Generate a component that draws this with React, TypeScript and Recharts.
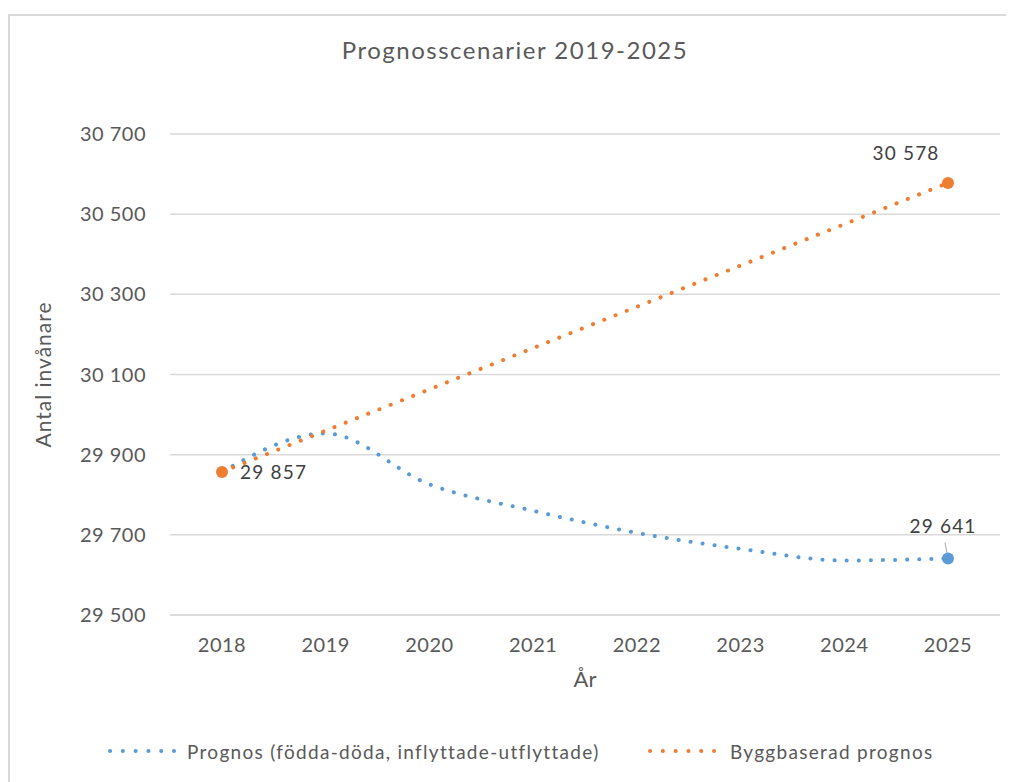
import { LineChart, Line, XAxis, YAxis, CartesianGrid, Label } from 'recharts';

const years = ['2018', '2019', '2020', '2021', '2022', '2023', '2024', '2025'];
const prognosValues = [29857, 29953, 29826, 29760, 29705, 29665, 29636, 29641];
const byggValues = [29857, 29960, 30063, 30166, 30269, 30372, 30475, 30578];
const yTicks = [29500, 29700, 29900, 30100, 30300, 30500, 30700];

const BLUE = '#5B9BD5';
const ORANGE = '#ED7D31';
const TEXT = '#595959';
const GRID = '#d9d9d9';
const FONT = 'Lato, "Open Sans", sans-serif';

const data = years.map((year, i) => ({
  year,
  prognos: prognosValues[i],
  bygg: byggValues[i],
}));

const fmt = (v: number) => String(v).replace(/\B(?=(\d{3})+(?!\d))/g, ' ');

const makeDot = (color: string, indices: number[]) => (props: any) => {
  const { cx, cy, index } = props;
  if (!indices.includes(index)) return <g key={`d${index}`} />;
  return <circle key={`d${index}`} cx={cx} cy={cy} r={6} fill={color} stroke="none" />;
};

const labelStyle = { fontFamily: FONT, fontSize: 19, fill: '#404040', letterSpacing: 1.2 };

const byggLabel = (props: any) => {
  const { x, y, value, index } = props;
  if (index === 0) {
    return (
      <text key="l0" x={x + 18} y={y} dominantBaseline="central" style={labelStyle}>{fmt(value)}</text>
    );
  }
  if (index === 7) {
    return (
      <text key="l7" x={x - 42} y={y - 30} textAnchor="middle" dominantBaseline="central" style={labelStyle}>{fmt(value)}</text>
    );
  }
  return <g key={`l${index}`} />;
};

const prognosLabel = (props: any) => {
  const { x, y, value, index } = props;
  if (index !== 7) return <g key={`p${index}`} />;
  return (
    <g key="p7">
      <line x1={x - 3} y1={y - 16} x2={x - 1} y2={y - 5} stroke="#a6a6a6" strokeWidth={1} />
      <text x={x - 5} y={y - 33} textAnchor="middle" dominantBaseline="central" style={labelStyle}>{fmt(value)}</text>
    </g>
  );
};

const LegendDots = ({ color }: { color: string }) => (
  <svg width={70} height={10} style={{ verticalAlign: 'middle' }}>
    <line x1={3} y1={5} x2={67} y2={5} stroke={color} strokeWidth={4}
      strokeLinecap="round" strokeDasharray="0.1 12.7" />
  </svg>
);

export default function App() {
  return (
    <div style={{
      position: 'relative', width: 1006, height: 768, marginTop: 6,
      borderTop: `2px solid ${GRID}`, borderLeft: `2px solid ${GRID}`,
      boxSizing: 'border-box', fontFamily: FONT, color: TEXT, background: '#fff',
    }}>
      <div style={{
        position: 'absolute', top: 19, left: 0, width: 1010, textAlign: 'center',
        fontSize: 24, letterSpacing: 1.5, color: TEXT,
      }}>
        Prognosscenarier 2019-2025
      </div>
      <div style={{ position: 'absolute', left: -2, top: -2 }}>
        <LineChart width={1006} height={768} data={data}
          margin={{ top: 120, right: 14, bottom: 87, left: 0 }}>
          <CartesianGrid vertical={false} stroke={GRID} strokeWidth={1.5} />
          <XAxis dataKey="year" height={80} padding={{ left: 52, right: 52 }}
            axisLine={{ stroke: GRID, strokeWidth: 1.5 }} tickLine={false} tickMargin={17}
            tick={{ fill: TEXT, fontSize: 20, fontFamily: FONT, letterSpacing: 0.5 }}>
            <Label value="År" position="insideBottom" offset={8}
              style={{ fill: TEXT, fontSize: 22, fontFamily: FONT }} />
          </XAxis>
          <YAxis width={162} domain={[29500, 30700]} ticks={yTicks} interval={0}
            axisLine={false} tickLine={false} tickMargin={18} tickFormatter={fmt}
            tick={{ fill: TEXT, fontSize: 20, fontFamily: FONT, letterSpacing: 0.5 }}>
            <Label value="Antal invånare" angle={-90} position="insideLeft" offset={36}
              style={{ fill: TEXT, fontSize: 21, fontFamily: FONT, textAnchor: 'middle', letterSpacing: 1 }} />
          </YAxis>
          <Line dataKey="prognos" type="monotone" stroke={BLUE} strokeWidth={4}
            strokeLinecap="round" strokeDasharray="0.1 12" dot={makeDot(BLUE, [7])}
            activeDot={false} label={prognosLabel} isAnimationActive={false} />
          <Line dataKey="bygg" type="monotone" stroke={ORANGE} strokeWidth={4}
            strokeLinecap="round" strokeDasharray="0.1 12" dot={makeDot(ORANGE, [0, 7])}
            activeDot={false} label={byggLabel} isAnimationActive={false} />
        </LineChart>
      </div>
      <div style={{ position: 'absolute', top: 721, left: 97, fontSize: 19, letterSpacing: 1.3, whiteSpace: 'nowrap' }}>
        <LegendDots color={BLUE} />
        <span style={{ marginLeft: 10, verticalAlign: 'middle' }}>Prognos (födda-döda, inflyttade-utflyttade)</span>
      </div>
      <div style={{ position: 'absolute', top: 721, left: 637, fontSize: 19, letterSpacing: 1.3, whiteSpace: 'nowrap' }}>
        <LegendDots color={ORANGE} />
        <span style={{ marginLeft: 13, verticalAlign: 'middle' }}>Byggbaserad prognos</span>
      </div>
    </div>
  );
}
